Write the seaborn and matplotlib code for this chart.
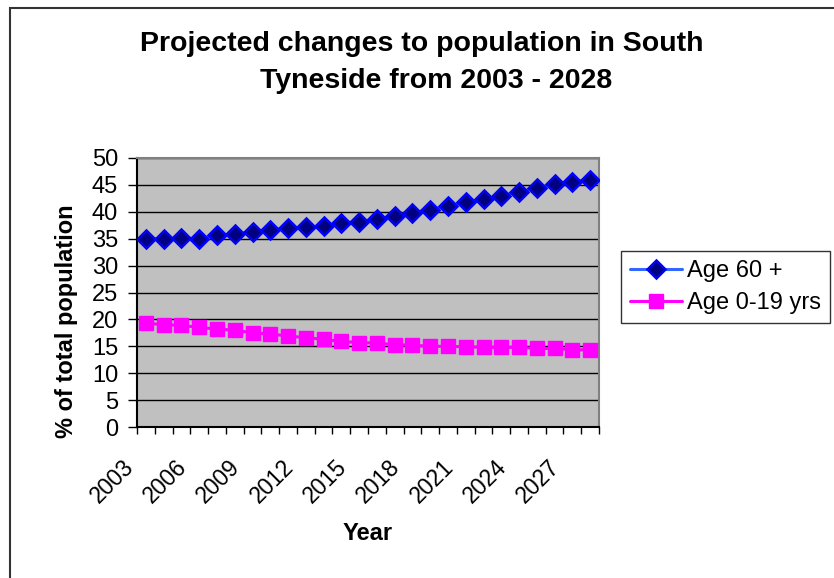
import numpy as np
import pandas as pd
import matplotlib
matplotlib.use("Agg")
import matplotlib.pyplot as plt
import matplotlib.patches as mpatches
from matplotlib.transforms import ScaledTranslation
import seaborn as sns

years = list(range(2003, 2029))
age_60_plus = [35.0, 35.0, 35.1, 35.0, 35.6, 35.9, 36.3, 36.7, 36.9, 37.1, 37.4, 38.0, 38.1,
               38.7, 39.2, 39.8, 40.4, 41.1, 41.8, 42.3, 43.0, 43.7, 44.4, 45.1, 45.6, 46.0]
age_0_19 = [19.3, 19.0, 18.9, 18.5, 18.2, 18.0, 17.5, 17.3, 16.9, 16.6, 16.3, 15.9, 15.7,
            15.6, 15.3, 15.2, 15.0, 15.0, 14.9, 14.8, 14.8, 14.8, 14.6, 14.6, 14.4, 14.3]
series_names = ["Age 60 +", "Age 0-19 yrs"]
tick_years = list(range(2003, 2028, 3))
y_ticks = list(range(0, 55, 5))

title_lines = ["Projected changes to population in South", "Tyneside from 2003 - 2028"]
x_title = "Year"
y_title = "% of total population"

sns.set_style("white")
plt.rcParams["font.family"] = ["Liberation Sans", "DejaVu Sans"]
plt.rcParams["text.color"] = "black"
plt.rcParams["axes.labelcolor"] = "black"
plt.rcParams["xtick.color"] = "black"
plt.rcParams["ytick.color"] = "black"

W, H = 834, 578
fig = plt.figure(figsize=(W / 100, H / 100), dpi=100)
ax = fig.add_axes([137 / W, 1 - 427 / H, (599 - 137) / W, (427 - 158) / H])
ax.set_facecolor("#C0C0C0")

df1 = pd.DataFrame({"Year": years, "Value": age_60_plus})
df2 = pd.DataFrame({"Year": years, "Value": age_0_19})

sns.lineplot(data=df1, x="Year", y="Value", ax=ax, color="#3366FF", lw=2.2,
             marker="D", markersize=9, markerfacecolor="#000080",
             markeredgecolor="#0000FF", markeredgewidth=1.8, label=series_names[0],
             legend=False, zorder=5)
sns.lineplot(data=df2, x="Year", y="Value", ax=ax, color="#FF00FF", lw=2.2,
             marker="s", markersize=10.5, markerfacecolor="#FF00FF",
             markeredgecolor="#FF00FF", markeredgewidth=1, label=series_names[1],
             legend=False, zorder=5)

ax.set_xlim(years[0] - 0.5, years[-1] + 0.5)
ax.set_ylim(0, 50)
ax.set_yticks(y_ticks)
ax.set_xticks(tick_years)
ax.set_xticks([y - 0.5 for y in years] + [years[-1] + 0.5], minor=True)

ax.yaxis.grid(True, color="black", lw=1.0)
ax.xaxis.grid(False)
ax.set_axisbelow(True)

for s in ["top", "right"]:
    ax.spines[s].set_color("#808080")
    ax.spines[s].set_linewidth(1.5)
for s in ["left", "bottom"]:
    ax.spines[s].set_color("black")
    ax.spines[s].set_linewidth(1.5)

fs = 17
ax.tick_params(axis="y", which="major", direction="out", length=6.5, width=1,
               color="black", pad=7, labelsize=fs, left=True, labelcolor="black")
ax.tick_params(axis="x", which="major", length=0, pad=26, labelsize=16.5, bottom=True,
               labelcolor="black")
ax.tick_params(axis="x", which="minor", direction="out", length=5, width=1,
               color="black", bottom=True)

labels = ax.set_xticklabels([str(y) for y in tick_years], rotation=45, ha="right",
                            va="center", rotation_mode="anchor")
shift = ScaledTranslation(-16 / 100, 0, fig.dpi_scale_trans)
for lab in labels:
    lab.set_transform(lab.get_transform() + shift)

ax.set_xlabel(x_title, fontsize=fs, fontweight="bold", color="black")
ax.set_ylabel(y_title, fontsize=fs, fontweight="bold", color="black")
ax.xaxis.set_label_coords(0.5, -(522 - 427) / 269)
ax.yaxis.set_label_coords(-(137 - 78) / 462, (427 - 321) / 269)

fig.text(422 / W, 1 - 50.7 / H, title_lines[0], ha="center", va="baseline",
         fontsize=20.5, fontweight="bold", color="black")
fig.text(436 / W, 1 - 88.3 / H, title_lines[1], ha="center", va="baseline",
         fontsize=20.5, fontweight="bold", color="black")

leg = ax.legend(loc="upper left", bbox_to_anchor=(621 / W, 1 - 251 / H),
                bbox_transform=fig.transFigure, fontsize=fs, frameon=True,
                fancybox=False, edgecolor="black", handlelength=2.2,
                handletextpad=0.2, borderpad=0.38, labelspacing=0.42,
                borderaxespad=0)
leg.get_frame().set_linewidth(1.0)
leg.get_frame().set_facecolor("white")
for t in leg.get_texts():
    t.set_color("black")

border = mpatches.Rectangle((10 / W, -0.1), 1.0, 1 - 8 / H + 0.1,
                            transform=fig.transFigure, fill=False,
                            edgecolor="#333333", lw=1.5, clip_on=False)
fig.patches.append(border)

fig.savefig("out.png", dpi=100)
